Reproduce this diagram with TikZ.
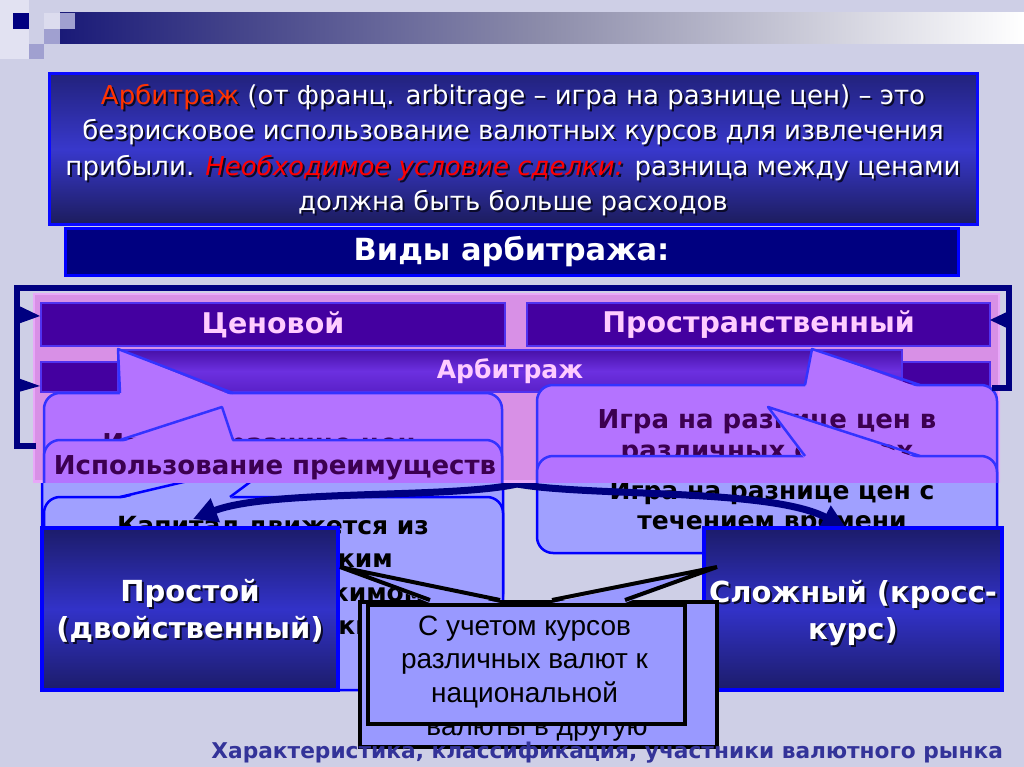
\documentclass[tikz,border=0pt]{standalone}
\usepackage{fontspec}
\setmainfont{DejaVu Sans}
\newfontfamily\arialf{Liberation Sans}
\usetikzlibrary{arrows.meta}
\definecolor{bg}{RGB}{206,207,230}
\definecolor{decodark}{RGB}{0,0,128}
\definecolor{decopale}{RGB}{220,220,238}
\definecolor{decomed}{RGB}{160,160,208}
\definecolor{decolight}{RGB}{226,226,242}
\definecolor{barleft}{RGB}{26,26,120}
\definecolor{barmid}{RGB}{140,140,170}
\definecolor{defedge}{RGB}{10,10,255}
\definecolor{deftop}{RGB}{34,34,124}
\definecolor{defmid}{RGB}{56,56,204}
\definecolor{defbot}{RGB}{28,28,92}
\definecolor{orred}{RGB}{255,51,0}
\definecolor{redc}{RGB}{255,0,0}
\definecolor{shadowc}{RGB}{10,10,40}
\definecolor{vidyfill}{RGB}{0,0,128}
\definecolor{vidyedge}{RGB}{0,0,255}
\definecolor{pinkbg}{RGB}{216,144,230}
\definecolor{pinkedge}{RGB}{232,168,248}
\definecolor{purpfill}{RGB}{68,0,160}
\definecolor{purpedge}{RGB}{80,50,240}
\definecolor{pinktext}{RGB}{255,204,255}
\definecolor{violetfill}{RGB}{180,115,255}
\definecolor{violetedge}{RGB}{51,51,255}
\definecolor{violettext}{RGB}{60,0,80}
\definecolor{bantop}{RGB}{72,16,168}
\definecolor{banmid}{RGB}{108,48,224}
\definecolor{banbot}{RGB}{90,32,200}
\definecolor{bluefill}{RGB}{160,160,255}
\definecolor{blueedge}{RGB}{0,0,255}
\definecolor{navyarrow}{RGB}{0,0,128}
\definecolor{calfill}{RGB}{153,153,255}
\definecolor{footc}{RGB}{51,51,153}
\definecolor{navytop}{RGB}{28,28,106}
\definecolor{navymid}{RGB}{50,50,200}
% text with a drop shadow, one line at a time
\newcommand\shl[1]{\makebox[0pt][l]{\raisebox{-2pt}{\hspace{2pt}\def\cA{shadowc}\def\cB{shadowc}\color{shadowc}#1}}{\def\cA{orred}\def\cB{redc}#1}}
\begin{document}
\begin{tikzpicture}[x=1pt,y=-1pt,
 defbox/.style={draw=defedge, line width=3pt, top color=deftop, bottom color=defbot, middle color=defmid},
 deftext/.style={align=center, text=white, font=\fontsize{26}{35.5}\selectfont, inner sep=0},
 vidybox/.style={draw=vidyedge, fill=vidyfill, line width=3pt, text=white, font=\bfseries\fontsize{30.5}{36}\selectfont},
 purpbox/.style={draw=purpedge, fill=purpfill, line width=2.5pt, text=pinktext, font=\bfseries\fontsize{28.5}{32}\selectfont},
 banner/.style={draw=purpedge, line width=2pt, top color=bantop, bottom color=banbot, middle color=banmid, text=pinktext, font=\bfseries\fontsize{25}{30}\selectfont},
 violetcall/.style={draw=violetedge, fill=violetfill, line width=2.5pt, rounded corners=16pt},
 calltext/.style={text=violettext, align=center, font=\bfseries\fontsize{26}{31}\selectfont, inner sep=0},
 bluecall/.style={draw=blueedge, fill=bluefill, line width=2.5pt, rounded corners=16pt},
 bluetext/.style={text=black, align=center, font=\bfseries\fontsize{25}{33.5}\selectfont, inner sep=0},
 navybox/.style={draw=blueedge, line width=4pt, top color=navytop, bottom color=navytop, middle color=navymid},
 navytext/.style={text=white, align=center, font=\bfseries\fontsize{29}{37}\selectfont, inner sep=0},
 uchet/.style={draw=black, fill=calfill, line width=4pt},
 uchettext/.style={font=\arialf\fontsize{28}{33.5}\selectfont, align=center, inner sep=0},
 navyline/.style={draw=navyarrow, line width=6pt},
 bigarrow/.style={draw=navyarrow, line width=7pt, -{Triangle[length=24pt,width=24pt]}}
]
\path[use as bounding box] (0,0) rectangle (1024,767);
\fill[bg] (0,0) rectangle (1024,767);
% top decoration
\fill[decolight] (0,0) rectangle (29,59);
\shade[left color=barleft, right color=white, middle color=barmid] (60,13) rectangle (1024,44);
\fill[decodark] (13,13) rectangle (29,29);
\fill[decopale] (44,13) rectangle (60,29);
\fill[decomed] (60,13) rectangle (75,29);
\fill[decomed] (44,29) rectangle (60,44);
\fill[decomed] (29,44) rectangle (44,59);
% definition
\node[defbox, minimum width=928, minimum height=151] (defn) at (513,149.5) {};
\node[deftext] (deftext) at (513,151) {\shl{{\color{\cA}Арбитраж} (от франц. arbitrage – игра на разнице цен) – это}\\ \shl{безрисковое использование валютных курсов для извлечения}\\ \shl{прибыли. {\color{\cB}\itshape Необходимое условие сделки:} разница между ценами}\\ \shl{должна быть больше расходов}};
% kinds bar
\node[vidybox, minimum width=893, minimum height=46] (vidy) at (511.5,252) {Виды арбитража:};
% lower (blue) layer
\draw[bluecall] (42,440) rectangle (503,610);
\draw[bluecall] (44,497) rectangle (503,690);
\coordinate (captip) at (281,459);
\fill[bluefill] (120,499) -- (captip) -- (230,499) -- cycle;
\draw[blueedge, line width=2.5pt, line join=round] (120,497) -- (captip) -- (230,497);
\node[bluetext] (capital) at (273,578) {Капитал движется из\\стран с жестким\\налоговым режимом\\страны с мягким};
\draw[bluecall] (537,420) rectangle (997,553);
\node[bluetext, font=\bfseries\fontsize{25}{30}\selectfont] (time) at (772,508) {Игра на разнице цен с\\течением времени};
% curved double arrow
\coordinate (fork) at (517,484);
\coordinate (leftend) at (193,519);
\coordinate (rightend) at (846,528);
\draw[bigarrow] (fork) .. controls (450,499) and (270,489) .. (leftend);
\draw[bigarrow] (fork) .. controls (590,497) and (770,488) .. (rightend);
% upper (pink) layer
\begin{scope}
\clip (33,293) rectangle (1000,482);
\draw[fill=pinkbg, draw=pinkedge, line width=4pt] (33,293) rectangle (1000,482);
\node[purpbox, minimum width=464, minimum height=43] (cen) at (273,324.5) {Ценовой};
\node[purpbox, minimum width=463, minimum height=43] (space) at (758.5,324.5) {Пространственный};
\node[purpbox, minimum width=464, minimum height=30] (cenlow) at (273,377) {};
\node[purpbox, minimum width=463, minimum height=30] (spacelow) at (758.5,377) {};
\node[banner, minimum width=784, minimum height=42] (arb) at (510,371) {Арбитраж};
% left callouts
\draw[violetcall] (44,393) rectangle (502,560);
\fill[violetfill] (120,396) -- (118,349) -- (233,396) -- cycle;
\draw[violetedge, line width=2.5pt, line join=round] (120,393) -- (118,349) -- (233,393);
\node[calltext] (lc1) at (259,446) {Игра на разнице цен};
\draw[violetcall] (44,440) rectangle (502,600);
\fill[violetfill] (120,443) -- (222,407) -- (233,443) -- cycle;
\draw[violetedge, line width=2.5pt, line join=round] (120,440) -- (222,407) -- (233,440);
\node[calltext] (lc2) at (275,468) {Использование преимуществ};
% right callouts
\draw[violetcall] (537,385) rectangle (997,560);
\fill[violetfill] (805,388) -- (812,349) -- (920,388) -- cycle;
\draw[violetedge, line width=2.5pt, line join=round] (805,385) -- (812,349) -- (920,385);
\node[calltext] (rc1) at (767,437) {Игра на разнице цен в\\различных странах};
\draw[violetcall] (537,456) rectangle (997,600);
\fill[violetfill] (805,459) -- (768,407) -- (920,459) -- cycle;
\draw[violetedge, line width=2.5pt, line join=round] (805,456) -- (768,407) -- (920,456);
\end{scope}
% hierarchy bracket lines
\draw[navyline, line join=miter] (36,446) -- (17,446) -- (17,288) -- (1009,288) -- (1009,388) -- (992,388);
\fill[navyarrow] (15,304) -- (40,316) -- (15,325) -- cycle;
\fill[navyarrow] (15,377) -- (40,386) -- (15,393) -- cycle;
\fill[navyarrow] (1011,310) -- (990,320) -- (1011,330) -- cycle;
% simple / complex boxes
\node[navybox, minimum width=296, minimum height=162] (simple) at (190,609) {};
\node[navytext] (simpletext) at (190,612) {\shl{Простой}\\\shl{(двойственный)}};
\node[navybox, minimum width=298, minimum height=162] (cross) at (853,609) {};
\node[navytext] (crosstext) at (853,614) {\shl{Сложный (кросс-}\\\shl{курс)}};
% explanation callouts
\coordinate (tipsimple) at (340,567);
\coordinate (tipcross) at (717,567);
\node[uchet, minimum width=357, minimum height=145, anchor=north west] (back) at (358,600) {};
\fill[calfill] (430,603) -- (tipsimple) -- (500,603) -- cycle;
\draw[black, line width=4pt, line join=miter] (430,600) -- (tipsimple) -- (500,600);
\fill[calfill] (552,603) -- (tipcross) -- (625,603) -- cycle;
\draw[black, line width=4pt, line join=miter] (552,600) -- (tipcross) -- (625,600);
\node[uchettext] (backtext) at (537,731) {валюты в другую};
\node[uchet, minimum width=317, minimum height=119, anchor=north west] (front) at (366,603) {};
\node[uchettext] (fronttext) at (524.5,662) {С учетом курсов\\различных валют к\\национальной};
% footer
\node[anchor=east, text=footc, font=\bfseries\fontsize{21.7}{24}\selectfont, inner sep=0] (footer) at (1003,753) {Характеристика, классификация, участники валютного рынка};
\end{tikzpicture}
\end{document}
